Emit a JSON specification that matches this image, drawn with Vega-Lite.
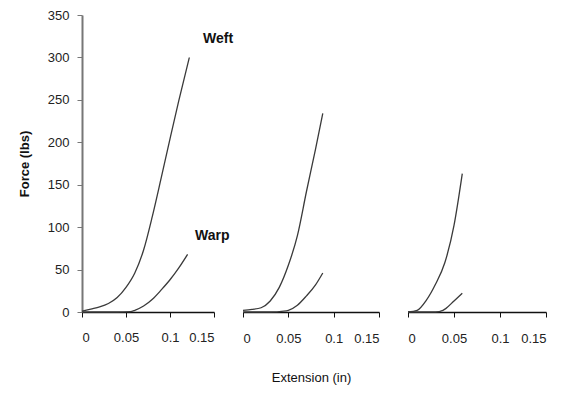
{
  "$schema": "https://vega.github.io/schema/vega-lite/v6.json",
  "padding": {"left": 18, "top": 9, "right": 5, "bottom": 5},
  "bounds": "flush",
  "spacing": 29,
  "config": {
    "view": {"stroke": null},
    "font": "Liberation Sans",
    "axis": {"grid": false, "labelFont": "Liberation Sans", "titleFont": "Liberation Sans", "labelColor": "#222", "titleColor": "#111", "labelFontSize": 13, "tickSize": 5}
  },
  "datasets": {
    "curves": [
      {"panel": 1, "series": "Weft", "ext": 0, "force": 1},
      {"panel": 1, "series": "Weft", "ext": 0.01, "force": 3.5},
      {"panel": 1, "series": "Weft", "ext": 0.02, "force": 6},
      {"panel": 1, "series": "Weft", "ext": 0.03, "force": 10},
      {"panel": 1, "series": "Weft", "ext": 0.04, "force": 17},
      {"panel": 1, "series": "Weft", "ext": 0.05, "force": 29},
      {"panel": 1, "series": "Weft", "ext": 0.06, "force": 46},
      {"panel": 1, "series": "Weft", "ext": 0.07, "force": 73},
      {"panel": 1, "series": "Weft", "ext": 0.08, "force": 113},
      {"panel": 1, "series": "Weft", "ext": 0.09, "force": 158},
      {"panel": 1, "series": "Weft", "ext": 0.1, "force": 204},
      {"panel": 1, "series": "Weft", "ext": 0.11, "force": 249},
      {"panel": 1, "series": "Weft", "ext": 0.122, "force": 300},
      {"panel": 1, "series": "Warp", "ext": 0, "force": 0},
      {"panel": 1, "series": "Warp", "ext": 0.02, "force": 0},
      {"panel": 1, "series": "Warp", "ext": 0.04, "force": 0},
      {"panel": 1, "series": "Warp", "ext": 0.055, "force": 0.5},
      {"panel": 1, "series": "Warp", "ext": 0.06, "force": 2},
      {"panel": 1, "series": "Warp", "ext": 0.07, "force": 7},
      {"panel": 1, "series": "Warp", "ext": 0.08, "force": 15},
      {"panel": 1, "series": "Warp", "ext": 0.09, "force": 26},
      {"panel": 1, "series": "Warp", "ext": 0.1, "force": 38},
      {"panel": 1, "series": "Warp", "ext": 0.11, "force": 52},
      {"panel": 1, "series": "Warp", "ext": 0.12, "force": 68},
      {"panel": 2, "series": "Weft", "ext": 0, "force": 2},
      {"panel": 2, "series": "Weft", "ext": 0.01, "force": 3},
      {"panel": 2, "series": "Weft", "ext": 0.02, "force": 5},
      {"panel": 2, "series": "Weft", "ext": 0.03, "force": 13},
      {"panel": 2, "series": "Weft", "ext": 0.04, "force": 29},
      {"panel": 2, "series": "Weft", "ext": 0.05, "force": 55},
      {"panel": 2, "series": "Weft", "ext": 0.06, "force": 90},
      {"panel": 2, "series": "Weft", "ext": 0.07, "force": 142},
      {"panel": 2, "series": "Weft", "ext": 0.08, "force": 192},
      {"panel": 2, "series": "Weft", "ext": 0.088, "force": 234},
      {"panel": 2, "series": "Warp", "ext": 0, "force": 0},
      {"panel": 2, "series": "Warp", "ext": 0.03, "force": 0},
      {"panel": 2, "series": "Warp", "ext": 0.045, "force": 1},
      {"panel": 2, "series": "Warp", "ext": 0.05, "force": 2},
      {"panel": 2, "series": "Warp", "ext": 0.06, "force": 8},
      {"panel": 2, "series": "Warp", "ext": 0.07, "force": 19},
      {"panel": 2, "series": "Warp", "ext": 0.08, "force": 32},
      {"panel": 2, "series": "Warp", "ext": 0.088, "force": 46},
      {"panel": 3, "series": "Weft", "ext": 0, "force": 0},
      {"panel": 3, "series": "Weft", "ext": 0.01, "force": 2},
      {"panel": 3, "series": "Weft", "ext": 0.02, "force": 14},
      {"panel": 3, "series": "Weft", "ext": 0.03, "force": 33},
      {"panel": 3, "series": "Weft", "ext": 0.04, "force": 58},
      {"panel": 3, "series": "Weft", "ext": 0.05, "force": 102},
      {"panel": 3, "series": "Weft", "ext": 0.059, "force": 163},
      {"panel": 3, "series": "Warp", "ext": 0, "force": 0},
      {"panel": 3, "series": "Warp", "ext": 0.03, "force": 0},
      {"panel": 3, "series": "Warp", "ext": 0.038, "force": 2},
      {"panel": 3, "series": "Warp", "ext": 0.041, "force": 4},
      {"panel": 3, "series": "Warp", "ext": 0.05, "force": 13},
      {"panel": 3, "series": "Warp", "ext": 0.059, "force": 22}
    ]
  },
  "hconcat": [
    {
      "width": 132,
      "height": 297,
      "layer": [
        {
          "data": {"name": "curves"},
          "transform": [{"filter": "datum.panel == 1"}],
          "mark": {"type": "line", "color": "#3a3a3a", "strokeWidth": 1.3, "interpolate": "monotone", "clip": false},
          "encoding": {
            "x": {"field": "ext", "type": "quantitative", "scale": {"domain": [0, 0.15], "nice": false},
                  "axis": {"values": [0, 0.05, 0.1, 0.15], "labelExpr": "'' + datum.value", "title": null, "domainColor": "#111", "domainWidth": 1.5, "tickColor": "#111", "labelPadding": 14}},
            "y": {"field": "force", "type": "quantitative", "scale": {"domain": [0, 350], "nice": false},
                  "axis": {"values": [0, 50, 100, 150, 200, 250, 300, 350], "title": "Force (lbs)", "titleFontSize": 13, "titleFontWeight": "bold", "titlePadding": 16, "labelPadding": 8, "domainColor": "#777", "domainWidth": 2, "tickColor": "#777"}},
            "detail": {"field": "series"}
          }
        },
        {
          "data": {"values": [{"label": "Weft"}]},
          "mark": {"type": "text", "fontSize": 14, "fontWeight": "bold", "color": "#111"},
          "encoding": {"x": {"datum": 0.1546}, "y": {"datum": 322}, "text": {"field": "label"}}
        },
        {
          "data": {"values": [{"label": "Warp"}]},
          "mark": {"type": "text", "fontSize": 14, "fontWeight": "bold", "color": "#111"},
          "encoding": {"x": {"datum": 0.148}, "y": {"datum": 90}, "text": {"field": "label"}}
        }
      ]
    },
    {
      "width": 136,
      "height": 297,
      "data": {"name": "curves"},
      "transform": [{"filter": "datum.panel == 2"}],
      "mark": {"type": "line", "color": "#3a3a3a", "strokeWidth": 1.3, "interpolate": "monotone"},
      "encoding": {
        "x": {"field": "ext", "type": "quantitative", "scale": {"domain": [0, 0.15], "nice": false},
              "axis": {"values": [0, 0.05, 0.1, 0.15], "labelExpr": "'' + datum.value", "title": "Extension (in)", "titleFontSize": 13, "titleFontWeight": "normal", "titlePadding": 26, "domainColor": "#111", "domainWidth": 1.5, "tickColor": "#111", "labelPadding": 15}},
        "y": {"field": "force", "type": "quantitative", "scale": {"domain": [0, 350], "nice": false}, "axis": null},
        "detail": {"field": "series"}
      }
    },
    {
      "width": 138,
      "height": 297,
      "data": {"name": "curves"},
      "transform": [{"filter": "datum.panel == 3"}],
      "mark": {"type": "line", "color": "#3a3a3a", "strokeWidth": 1.3, "interpolate": "monotone"},
      "encoding": {
        "x": {"field": "ext", "type": "quantitative", "scale": {"domain": [0, 0.15], "nice": false},
              "axis": {"values": [0, 0.05, 0.1, 0.15], "labelExpr": "'' + datum.value", "title": null, "domainColor": "#111", "domainWidth": 1.5, "tickColor": "#111", "labelPadding": 15}},
        "y": {"field": "force", "type": "quantitative", "scale": {"domain": [0, 350], "nice": false}, "axis": null},
        "detail": {"field": "series"}
      }
    }
  ]
}
